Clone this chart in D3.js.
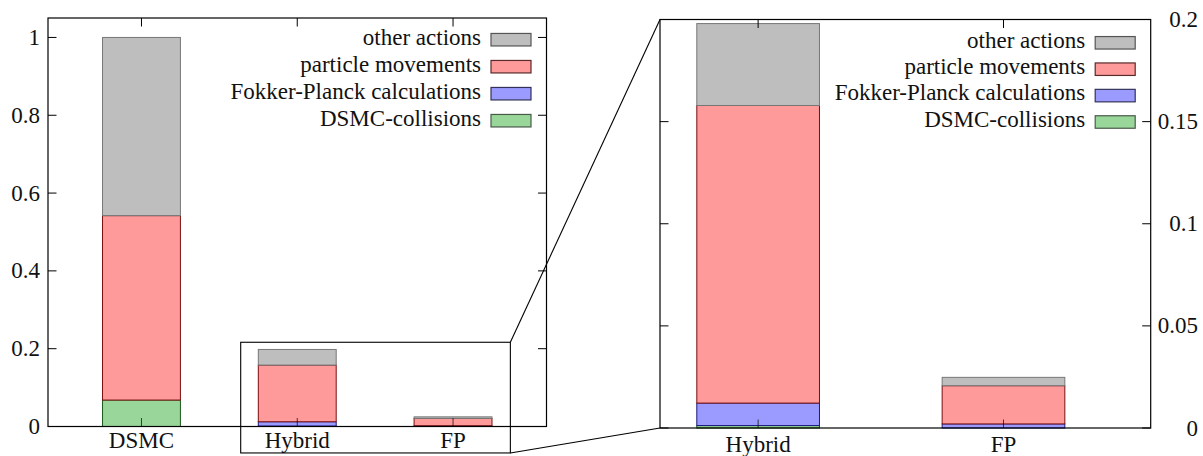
<!DOCTYPE html>
<html>
<head>
<meta charset="utf-8">
<script src="https://cdn.jsdelivr.net/npm/d3@7"></script>
</head>
<body style="margin:0">
<svg id="fig" width="1203" height="456"></svg>
<script>
// ---- data ----
const categories = ["DSMC", "Hybrid", "FP"];
const seriesNames = ["DSMC-collisions", "Fokker-Planck calculations", "particle movements", "other actions"];
const dsmcCollisions = [0.068, 0.0012, 0.0];
const fokkerPlanck   = [0.0, 0.011, 0.002];
const particleMoves  = [0.474, 0.1457, 0.0187];
const otherActions   = [0.458, 0.0401, 0.0041];
const leftTicks  = [0, 0.2, 0.4, 0.6, 0.8, 1];
const rightTicks = [0, 0.05, 0.1, 0.15, 0.2];
const zoomedCategories = ["Hybrid", "FP"];

// ---- styles ----
const fills   = ["#99d699", "#9a9aff", "#ff9a9a", "#bebebe"];
const borders = ["#1e5a1e", "#1a1a80", "#7a1010", "#777777"];
const legendBorders = ["#4a5a4a", "#33335a", "#5a2a2a", "#555555"];
const FONT = 23;

const table = categories.map((c, i) => ({
  cat: c,
  [seriesNames[0]]: dsmcCollisions[i],
  [seriesNames[1]]: fokkerPlanck[i],
  [seriesNames[2]]: particleMoves[i],
  [seriesNames[3]]: otherActions[i]
}));
const stacked = d3.stack().keys(seriesNames)(table);

const svg = d3.select("#fig");

function txt(sel) {
  return sel
    .style("font-family", `"Liberation Serif"`, "important")
    .style("font-size", FONT + "px")
    .style("fill", "#111");
}

function panel(cfg) {
  const idx = cfg.cats.map(c => categories.indexOf(c));
  const x = d3.scaleLinear().domain(cfg.xDomain).range(cfg.xRange);
  const y = d3.scaleLinear().domain(cfg.yDomain).range(cfg.yRange);
  const g = svg.append("g");
  const barW = 0.5;

  stacked.forEach((layer, si) => {
    g.append("g").selectAll("rect")
      .data(idx.map((ci, k) => ({ k, d: layer[ci] })).filter(o => o.d[1] - o.d[0] > 0))
      .join("rect")
      .attr("x", o => x(o.k - barW / 2))
      .attr("width", o => x(o.k + barW / 2) - x(o.k - barW / 2))
      .attr("y", o => y(o.d[1]))
      .attr("height", o => y(o.d[0]) - y(o.d[1]))
      .attr("fill", fills[si])
      .attr("stroke", borders[si])
      .attr("stroke-width", 1);
  });

  const [x0, x1] = cfg.xRange;
  const yb = cfg.yRange[0], yt = cfg.yRange[1];

  g.append("rect")
    .attr("x", x0).attr("y", yt)
    .attr("width", x1 - x0).attr("height", yb - yt)
    .attr("fill", "none").attr("stroke", "#000").attr("stroke-width", 1.2);

  const tl = 8.5;
  cfg.yTicks.forEach(t => {
    g.append("line").attr("x1", x0).attr("x2", x0 + tl).attr("y1", y(t)).attr("y2", y(t))
      .attr("stroke", "#000").attr("stroke-width", 1);
    g.append("line").attr("x1", x1).attr("x2", x1 - tl).attr("y1", y(t)).attr("y2", y(t))
      .attr("stroke", "#000").attr("stroke-width", 1);
  });
  svg.selectAll(null).data(cfg.yTicks).join("text")
    .call(txt)
    .attr("x", cfg.labelX)
    .attr("y", d => y(d) + 7.6)
    .attr("text-anchor", "end")
    .text(d => d3.format("~g")(d));

  idx.forEach((ci, k) => {
    g.append("line").attr("x1", x(k)).attr("x2", x(k)).attr("y1", yb).attr("y2", yb - tl)
      .attr("stroke", "#000").attr("stroke-width", 1).attr("stroke-opacity", 0.7);
    g.append("line").attr("x1", x(k)).attr("x2", x(k)).attr("y1", yt).attr("y2", yt + tl)
      .attr("stroke", "#000").attr("stroke-width", 1);
  });
  svg.selectAll(null).data(cfg.cats).join("text")
    .call(txt)
    .attr("x", (d, k) => x(k))
    .attr("y", yb + cfg.labelDy)
    .attr("text-anchor", "middle")
    .text(d => d);

  const legendOrder = [3, 2, 1, 0];
  const sw = 40, sh = 12.5;
  const swRight = x1 - 15.5;
  legendOrder.forEach((si, r) => {
    const cy = cfg.legendTop + r * cfg.legendStep;
    g.append("rect")
      .attr("x", swRight - sw).attr("y", cy - sh / 2)
      .attr("width", sw).attr("height", sh)
      .attr("fill", fills[si]).attr("stroke", legendBorders[si]).attr("stroke-width", 1.2);
  });
  svg.selectAll(null).data(legendOrder).join("text")
    .call(txt)
    .attr("x", swRight - sw - 10)
    .attr("y", (si, r) => cfg.legendTop + r * cfg.legendStep + 4.8)
    .attr("text-anchor", "end")
    .text(si => seriesNames[si]);

  return { x, y };
}

const L = panel({
  cats: categories,
  xDomain: [-0.6, 2.6], xRange: [48, 546.5],
  yDomain: [0, 1.05], yRange: [426.5, 18],
  yTicks: leftTicks, labelX: 40, labelDy: 21.5,
  legendTop: 39.7, legendStep: 27
});

const R = panel({
  cats: zoomedCategories,
  xDomain: [-0.4, 1.6], xRange: [660, 1150.7],
  yDomain: [0, 0.2], yRange: [428, 19.5],
  yTicks: rightTicks, labelX: 1198, labelDy: 23.5,
  legendTop: 42.8, legendStep: 26.4
});

const zoomBoxX = [0.637, 2.368];
const zoomBoxY = [-0.068, 0.2165];
const bx0 = L.x(zoomBoxX[0]), bx1 = L.x(zoomBoxX[1]);
const by0 = L.y(zoomBoxY[1]), by1 = L.y(zoomBoxY[0]);
svg.append("rect")
  .attr("x", bx0).attr("y", by0).attr("width", bx1 - bx0).attr("height", by1 - by0)
  .attr("fill", "none").attr("stroke", "#000").attr("stroke-width", 1.1);
svg.append("line")
  .attr("x1", bx1).attr("y1", by0).attr("x2", R.x.range()[0]).attr("y2", R.y.range()[1])
  .attr("stroke", "#000").attr("stroke-width", 1.1);
svg.append("line")
  .attr("x1", bx1).attr("y1", by1).attr("x2", R.x.range()[0]).attr("y2", R.y.range()[0])
  .attr("stroke", "#000").attr("stroke-width", 1.1);
</script>
</body>
</html>
